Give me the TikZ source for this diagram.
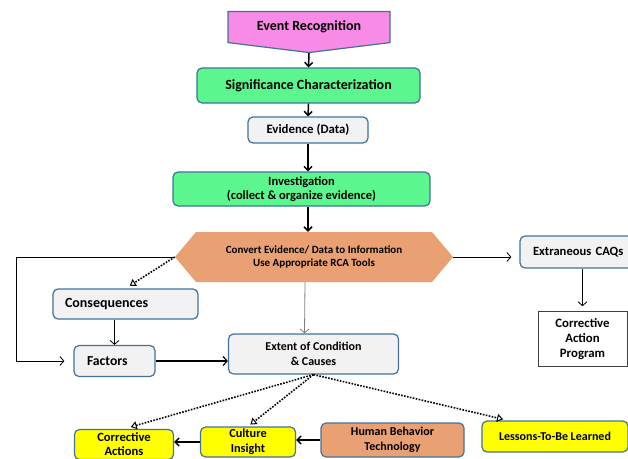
\documentclass[tikz,border=0pt]{standalone}
\usepackage{fontspec}
\setmainfont{Carlito}
\usepackage{tikz}
\usetikzlibrary{
	calc,
	arrows.meta,
	shapes.symbols
	}
\definecolor{bordbleu}{RGB}{65,113,156}
\definecolor{rose}{RGB}{247,139,229}
\definecolor{vertclair}{RGB}{92,246,142}
\definecolor{grisclair}{RGB}{242,242,242}
\definecolor{orangeclair}{RGB}{233,160,115}
\definecolor{jaune}{RGB}{255,255,0}
\tikzstyle{boite-std}=[draw=bordbleu,line width=1.2pt,rounded corners=5pt,fill=grisclair,inner sep=0pt,align=center,font=\bfseries\fontsize{12.3}{15}\selectfont]
\tikzstyle{boite-verte}=[boite-std,fill=vertclair]
\tikzstyle{boite-jaune}=[boite-std,fill=jaune]
\tikzstyle{fleche-epaisse}=[line width=1.5pt,-{Straight Barb[length=4pt,width=8pt]}]
\tikzstyle{fleche-fine}=[line width=0.8pt,-{Straight Barb[length=4pt,width=9pt]}]
\tikzstyle{fleche-points}=[line width=1.6pt,dash pattern=on 1.6pt off 1.4pt,-{Triangle[open,length=6pt,width=8pt,line width=1pt]}]

\begin{document}
\begin{tikzpicture}[x=1pt,y=-1pt]
\useasboundingbox (0,0) rectangle (628,458);

\node[signal,signal to=south,signal pointer angle=166,draw=bordbleu,line width=1.2pt,fill=rose,minimum width=162pt,minimum height=38pt,font=\bfseries\fontsize{14}{16}\selectfont] (noeudEvent) at (309,27) {Event Recognition};
\node[boite-verte,minimum width=223pt,minimum height=35pt,font=\bfseries\fontsize{14}{16}\selectfont] (noeudSignif) at (308.5,85.5) {Significance Characterization};
\node[boite-std,minimum width=120pt,minimum height=26pt,font=\bfseries\fontsize{12.8}{15}\selectfont] (noeudEvid) at (308,130) {Evidence (Data)};
\node[boite-verte,minimum width=257pt,minimum height=34pt,font=\bfseries\fontsize{12.5}{14}\selectfont] (noeudInvest) at (301.5,189) {Investigation\\(collect \& organize evidence)};
\node[signal,signal to=east and west,signal pointer angle=100,fill=orangeclair,minimum width=278pt,minimum height=50pt,inner sep=0pt,align=center,font=\bfseries\fontsize{11}{13.5}\selectfont] (noeudConvert) at (314,257) {Convert Evidence/ Data to Information\\Use Appropriate RCA Tools};

\node[boite-std,minimum height=32pt,text width=115pt,inner xsep=13pt,align=left,font=\bfseries\fontsize{12.6}{15}\selectfont] (noeudExtra) at (590.5,252) {Extraneous CAQs};
\node[draw=black!75,line width=0.6pt,fill=white,minimum width=89pt,minimum height=55pt,inner sep=0pt,align=center,font=\bfseries\fontsize{12.8}{15}\selectfont] (noeudCAP) at (582.5,339) {Corrective\\Action\\Program};

\node[boite-std,minimum height=30pt,text width=121pt,inner xsep=12pt,align=left,font=\bfseries\fontsize{14}{16}\selectfont] (noeudConseq) at (125.5,304) {Consequences};
\node[boite-std,minimum height=31pt,text width=55pt,inner xsep=13pt,align=left,font=\bfseries\fontsize{13.7}{16}\selectfont] (noeudFactors) at (114.5,361) {Factors};
\node[boite-std,minimum width=170pt,minimum height=40pt,font=\bfseries\fontsize{12}{15}\selectfont] (noeudExtent) at (313.5,354) {Extent of Condition\\\& Causes};

\node[boite-jaune,minimum width=99pt,minimum height=30pt,font=\bfseries\fontsize{12.6}{14}\selectfont] (noeudCorrAct) at (124,444.5) {Corrective\\Actions};
\node[boite-jaune,minimum width=95pt,minimum height=30pt] (noeudCulture) at (248,442) {Culture\\Insight};
\node[boite-std,fill=orangeclair,minimum width=143pt,minimum height=34pt,font=\bfseries\fontsize{12}{15}\selectfont] (noeudHuman) at (392.5,440) {Human Behavior\\Technology};
\node[boite-jaune,minimum width=146pt,minimum height=31pt,font=\bfseries\fontsize{12}{15}\selectfont] (noeudLessons) at (555,436.5) {Lessons-To-Be Learned};

\draw[fleche-epaisse] (noeudEvent.south) -- (noeudSignif.north);
\draw[fleche-epaisse] (noeudSignif.south) -- (noeudEvid.north);
\draw[fleche-epaisse] (noeudEvid.south) -- (noeudEvid.south |- noeudInvest.north);
\draw[fleche-epaisse] (noeudEvid.south |- noeudInvest.south) -- (noeudEvid.south |- noeudConvert.north);

\draw[fleche-fine,shorten >=8pt] (noeudConvert.east) -- (noeudConvert.east -| noeudExtra.west);
\draw[fleche-fine,shorten >=5pt] (noeudExtra.south -| noeudCAP.north) -- (noeudCAP.north);
\draw[fleche-fine,shorten >=9pt] (noeudConvert.west) -- ++(-158,0) |- (noeudFactors.west);
\draw[fleche-points,shorten >=5pt] (noeudConvert.west) -- (noeudConseq.north);
\draw[fleche-fine] (noeudFactors.north |- noeudConseq.south) -- (noeudFactors.north);
\draw[fleche-fine,gray] ([xshift=-9pt]noeudConvert.south) -- ([xshift=-9pt]noeudExtent.north);
\draw[line width=1.2pt,-{Straight Barb[length=4pt,width=9pt]}] (noeudFactors.east) -- (noeudFactors.east -| noeudExtent.west);

\draw[fleche-points,shorten >=7pt] (noeudExtent.south) -- (noeudCorrAct.north);
\draw[fleche-points,shorten >=3pt] (noeudExtent.south) -- (noeudCulture.north);
\draw[fleche-points,shorten >=5pt] (noeudExtent.south) -- ($(noeudLessons.north west)!0.18!(noeudLessons.north east)$);
\draw[fleche-epaisse] (noeudHuman.west) -- (noeudHuman.west -| noeudCulture.east);
\draw[fleche-epaisse] (noeudCulture.west) -- (noeudCulture.west -| noeudCorrAct.east);
\end{tikzpicture}
\end{document}
